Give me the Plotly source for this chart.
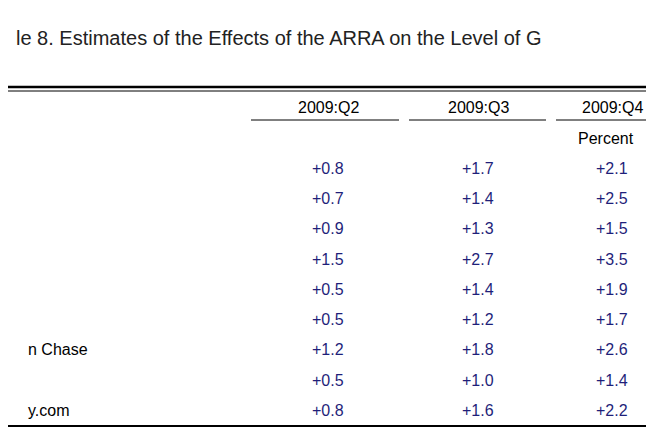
import plotly.graph_objects as go

cols = ["2009:Q2", "2009:Q3", "2009:Q4"]
col_x = [312, 462, 596]
labels = ["", "", "", "", "", "", "n Chase", "", "y.com"]
vals = {
    "2009:Q2": [0.8, 0.7, 0.9, 1.5, 0.5, 0.5, 1.2, 0.5, 0.8],
    "2009:Q3": [1.7, 1.4, 1.3, 2.7, 1.4, 1.2, 1.8, 1.0, 1.6],
    "2009:Q4": [2.1, 2.5, 1.5, 3.5, 1.9, 1.7, 2.6, 1.4, 2.2],
}
row_y = [152, 182, 212, 243, 273, 303, 333, 364, 394]
blue = "#1f1f7a"

fig = go.Figure()
ann = []
ann.append(dict(x=-2, y=22, text="le 8. Estimates of the Effects of the ARRA on the Level of G",
                xanchor="left", font=dict(size=20, color="#222")))
for c, x in zip(cols, col_x):
    ann.append(dict(x=x, y=91, text=c, font=dict(size=16, color="black")))
    for v, y in zip(vals[c], row_y):
        ann.append(dict(x=x, y=y, text=f"+{v:.1f}", font=dict(size=16, color=blue)))
ann.append(dict(x=590, y=122, text="Percent", font=dict(size=16, color="black")))
for lab, y in zip(labels, row_y):
    if lab:
        ann.append(dict(x=10, y=y, text=lab, xanchor="left", font=dict(size=16, color="black")))
for a in ann:
    a.update(xref="x", yref="y", showarrow=False, font_family="Arial")
    a.setdefault("xanchor", "center")

shapes = [
    dict(type="line", x0=-8, x1=654, y0=71, y1=71, line=dict(color="black", width=2.5)),
    dict(type="line", x0=-8, x1=654, y0=75, y1=75, line=dict(color="black", width=1)),
    dict(type="line", x0=-8, x1=654, y0=410, y1=410, line=dict(color="black", width=2)),
]
for a, b in [(235, 383), (393, 530), (540, 654)]:
    shapes.append(dict(type="line", x0=a, x1=b, y0=104, y1=104, line=dict(color="black", width=1)))

fig.update_layout(
    annotations=ann, shapes=shapes, width=654, height=436,
    margin=dict(l=0, r=0, t=0, b=0), plot_bgcolor="white", paper_bgcolor="white",
    xaxis=dict(range=[-8, 646], visible=False),
    yaxis=dict(range=[428, -8], visible=False),
)
fig.write_html("out.html")
